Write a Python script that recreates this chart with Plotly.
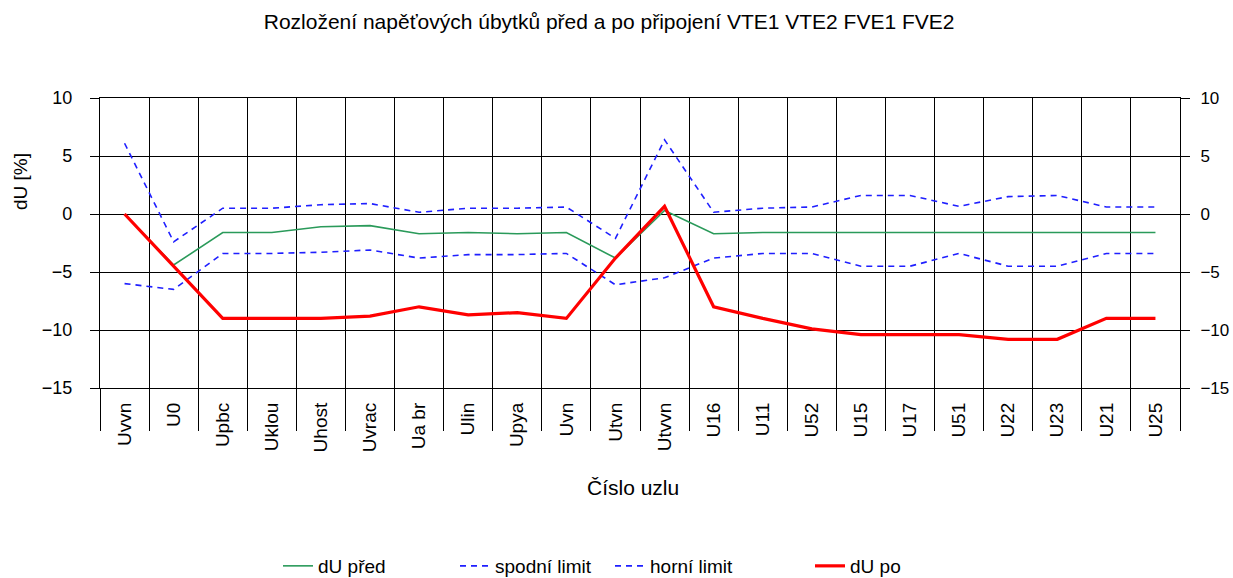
import plotly.graph_objects as go

categories = ["Uvvn", "U0", "Upbc", "Uklou", "Uhost", "Uvrac", "Ua br", "Ulin", "Upya", "Uvn",
              "Utvn", "Utvvn", "U16", "U11", "U52", "U15", "U17", "U51", "U22", "U23", "U21", "U25"]
du_pred = [0.0, -4.4, -1.6, -1.6, -1.1, -1.0, -1.7, -1.6, -1.7, -1.6,
           -3.8, 0.3, -1.7, -1.6, -1.6, -1.6, -1.6, -1.6, -1.6, -1.6, -1.6, -1.6]
spodni_limit = [-6.0, -6.5, -3.4, -3.4, -3.3, -3.1, -3.8, -3.5, -3.5, -3.4,
                -6.1, -5.5, -3.8, -3.4, -3.4, -4.5, -4.5, -3.4, -4.5, -4.5, -3.4, -3.4]
horni_limit = [6.1, -2.4, 0.5, 0.5, 0.8, 0.9, 0.15, 0.5, 0.5, 0.6,
               -2.1, 6.4, 0.15, 0.5, 0.6, 1.6, 1.6, 0.66, 1.5, 1.6, 0.6, 0.6]
du_po = [0.0, -4.5, -9.0, -9.0, -9.0, -8.8, -8.0, -8.7, -8.5, -9.0,
         -3.8, 0.66, -8.0, -9.0, -9.9, -10.4, -10.4, -10.4, -10.8, -10.8, -9.0, -9.0]
y_ticks = [-15, -10, -5, 0, 5, 10]

FONT = "Liberation Sans, Arial, sans-serif"
L, R, T, B = 100, 53, 98, 190
W, H = 1233, 578
PW, PH = W - L - R, H - T - B


def px(xpix):
    return (xpix - L) / PW


def py(ypix):
    return (T + PH - ypix) / PH


fig = go.Figure()
fig.add_trace(go.Scatter(x=categories, y=du_pred, name="dU před", mode="lines", legend="legend",
                         line=dict(color="#2a9a5a", width=1.6)))
fig.add_trace(go.Scatter(x=categories, y=spodni_limit, name="spodní limit", mode="lines", legend="legend2",
                         line=dict(color="#1f1fff", width=1.6, dash="6px,5px")))
fig.add_trace(go.Scatter(x=categories, y=horni_limit, name="horní limit", mode="lines", legend="legend3",
                         line=dict(color="#1f1fff", width=1.6, dash="6px,5px")))
fig.add_trace(go.Scatter(x=categories, y=du_po, name="dU po", mode="lines", legend="legend4",
                         line=dict(color="#ff0000", width=3.2)))
# helper trace for right axis and boundary ticks
fig.add_trace(go.Scatter(x=categories, y=du_po, xaxis="x2", yaxis="y2", mode="lines",
                         line=dict(width=0, color="rgba(0,0,0,0)"), showlegend=False, hoverinfo="skip"))

leg_common = dict(orientation="h", xanchor="left", yanchor="middle", font=dict(size=19),
                  itemwidth=30, bgcolor="rgba(0,0,0,0)")

fig.update_layout(
    width=W, height=H,
    paper_bgcolor="white", plot_bgcolor="white",
    margin=dict(l=L, r=R, t=T, b=B, autoexpand=False),
    font=dict(family=FONT, size=18, color="#000"),
    title=dict(text="Rozložení napěťových úbytků před a po připojení VTE1 VTE2 FVE1 FVE2",
               x=0.494, xanchor="center", y=1 - 22 / H, yanchor="middle",
               font=dict(family=FONT, size=21, color="#000")),
    xaxis=dict(type="category", categoryorder="array", categoryarray=categories,
               showgrid=True, tickson="boundaries", gridcolor="#000", gridwidth=1.3,
               ticks="", tickangle=-90, tickfont=dict(size=19), ticklabelstandoff=6,
               showline=True, linecolor="#000", linewidth=1.3, mirror=True,
               zeroline=False, range=[-0.5, len(categories) - 0.5]),
    xaxis2=dict(type="category", categoryorder="array", categoryarray=categories,
                overlaying="x", side="bottom", anchor="y", tickson="boundaries",
                ticks="outside", ticklen=42, tickcolor="#000", tickwidth=1.3,
                showticklabels=False, showgrid=False, range=[-0.5, len(categories) - 0.5]),
    yaxis=dict(range=[-15, 10], tickvals=y_ticks, showgrid=True, gridcolor="#000", gridwidth=1.3,
               zeroline=False, ticks="outside", ticklen=9, tickcolor="#000", tickwidth=1.3,
               showline=True, linecolor="#000", linewidth=1.3,
               mirror=True, tickfont=dict(size=18), ticklabelstandoff=14),
    yaxis2=dict(range=[-15, 10], tickvals=y_ticks, overlaying="y", side="right", anchor="x",
                showgrid=False, zeroline=False, ticks="outside", ticklen=9, tickcolor="#000",
                tickwidth=1.3, tickfont=dict(size=17), ticklabelstandoff=7),
    legend=dict(x=px(278), y=py(566), **leg_common),
    legend2=dict(x=px(455), y=py(566), **leg_common),
    legend3=dict(x=px(610), y=py(566), **leg_common),
    legend4=dict(x=px(810), y=py(566), **leg_common),
    showlegend=True,
)
fig.add_annotation(text="dU [%]", textangle=-90, xref="paper", yref="paper",
                   x=px(20), y=py(182), xanchor="center", yanchor="middle", showarrow=False,
                   font=dict(size=19))
fig.add_annotation(text="Číslo uzlu", xref="paper", yref="paper",
                   x=px(633), y=py(487), xanchor="center", yanchor="middle", showarrow=False,
                   font=dict(size=21))

fig.write_html("out.html", config={"displayModeBar": False},
               post_script="document.body.style.margin='0px';document.body.style.overflow='hidden';")
